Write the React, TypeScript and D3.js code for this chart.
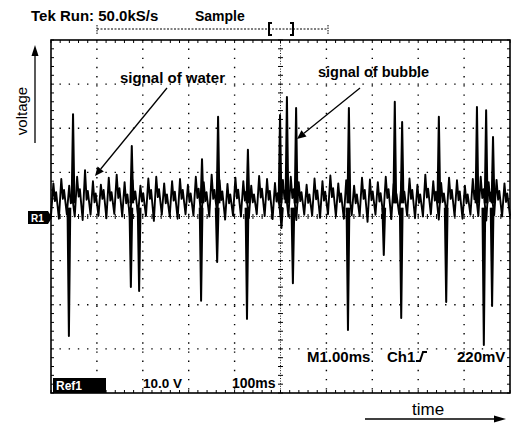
import React from "react";
import * as d3 from "d3";

// ---- data (time in ms, voltage in divisions) ----
const waterPeaks = [0.75,0.85,0.7,0.9,1.05,0.8,0.72,0.88,0.95,0.78,0.82,0.7,0.86,0.9,0.75,0.8,0.85,0.72,0.9,0.78,0.95,0.82,0.74,0.88,0.8,0.7,0.92,0.85,0.76,0.83,0.9,0.78,0.72,0.86,0.8,0.93,0.75,0.82,0.7,0.88,0.84,0.78,0.9,0.74,0.8,0.86,0.72,0.95,0.8,0.76,0.88,0.82,0.7,0.85,0.9,0.78,0.83,0.75];
const waterDips = [0.35,0.4,0.3,0.45,0.38,0.32,0.4,0.36,0.42,0.3,0.38,0.34,0.4,0.44,0.3,0.36,0.4,0.33,0.42,0.35,0.4,0.37,0.3,0.41,0.36,0.32,0.43,0.38,0.34,0.4,0.42,0.35,0.31,0.39,0.36,0.44,0.33,0.38,0.3,0.4,0.37,0.34,0.42,0.32,0.36,0.4,0.31,0.43,0.36,0.33,0.4,0.37,0.3,0.39,0.42,0.35,0.38,0.33];
const waterShoulders = [0.55,0.6,0.5,0.62,0.58,0.52,0.6,0.55,0.64,0.5,0.57,0.53,0.6,0.62,0.5,0.56,0.6,0.52,0.63,0.55,0.6,0.57,0.5,0.61,0.56,0.5,0.63,0.58,0.53,0.6,0.62,0.55,0.5,0.59,0.56,0.64,0.52,0.58,0.5,0.6,0.57,0.53,0.62,0.51,0.56,0.6,0.5,0.63,0.56,0.52,0.6,0.57,0.5,0.59,0.62,0.55,0.58,0.52];
const waterTroughs = [0.02,-0.05,0.05,0.0,-0.08,0.04,0.02,-0.04,0.06,0.0,-0.06,0.03,0.01,-0.1,0.04,0.0,-0.05,0.05,0.02,-0.03,0.0,0.06,-0.07,0.02,0.0,-0.04,0.05,0.01,-0.06,0.03,0.0,-0.08,0.04,0.02,-0.03,0.05,0.0,-0.05,0.03,0.01,-0.12,0.04,0.0,-0.06,0.05,0.02,-0.04,0.0,0.05,-0.07,0.02,0.0,-0.05,0.04,0.01,-0.09,0.03,0.0];

const spikeTimes = [0.39,0.48,1.74,1.76,1.92,3.27,3.29,3.62,3.64,4.27,4.29,4.99,5.02,5.14,5.27,5.34,6.47,6.49,7.25,7.49,7.63,7.65,8.45,8.61,9.28,9.43,9.48,9.61,9.63];
const spikeValues = [-2.71,2.32,-1.6,1.6,-1.69,-1.91,1.3,-1.03,2.26,-2.32,1.51,2.3,-0.26,2.71,-1.51,2.46,-2.57,2.46,-0.87,2.6,-2.3,2.14,2.26,-1.94,2.48,-2.91,2.41,-2.03,1.8];

const xDivs = d3.range(0, 11);
const yDivs = d3.range(-4, 5);

const FONT = "'Liberation Sans', Arial, Helvetica, sans-serif";

function Arrow({ x1, y1, x2, y2, head = 9, w = 4 }: any) {
  const a = Math.atan2(y2 - y1, x2 - x1);
  const bx = x2 - head * Math.cos(a), by = y2 - head * Math.sin(a);
  const px = -Math.sin(a) * w, py = Math.cos(a) * w;
  return (
    <g>
      <line x1={x1} y1={y1} x2={bx} y2={by} stroke="#000" strokeWidth={1.3} />
      <polygon points={`${x2},${y2} ${bx + px},${by + py} ${bx - px},${by - py}`} fill="#000" />
    </g>
  );
}

export default function App() {
  const x = d3.scaleLinear().domain([0, 10]).range([51, 510]);
  const y = d3.scaleLinear().domain([-4, 4]).range([393, 40]);
  const n = waterPeaks.length;
  const p = 10 / n;
  const pts: [number, number][] = [];
  for (let i = 0; i < n; i++) {
    const t = i * p;
    pts.push([t, waterTroughs[i]]);
    pts.push([t + 0.3 * p, waterPeaks[i]]);
    pts.push([t + 0.5 * p, waterDips[i]]);
    pts.push([t + 0.65 * p, waterShoulders[i]]);
  }
  pts.push([10, waterTroughs[0]]);
  const line = d3.line<[number, number]>().x((d) => x(d[0])).y((d) => y(d[1]));

  const minorX = d3.range(0, 10.001, 0.2);
  const minorY = d3.range(-4, 4.001, 0.2);
  const x0 = x(0), x1 = x(10), y0 = y(4), y1 = y(-4), cx = x(5), cy = y(0);

  return (
    <svg width={513} height={424} style={{ position: "absolute", left: 0, top: 0, background: "#fff" }} fontFamily={FONT}>
      <rect width={513} height={424} fill="#fff" />
      {/* header */}
      <text x={31} y={21} fontSize={15} fontWeight="bold">Tek Run: 50.0kS/s</text>
      <text x={195} y={21} fontSize={14} fontWeight="bold">Sample</text>
      <line x1={97} y1={29} x2={328} y2={29} stroke="#000" strokeWidth={1} strokeDasharray="2,1.5" />
      <line x1={97} y1={25} x2={97} y2={34} stroke="#000" strokeWidth={1} strokeDasharray="1.5,1" />
      <line x1={328} y1={25} x2={328} y2={34} stroke="#000" strokeWidth={1} strokeDasharray="1.5,1" />
      <path d="M272,23 L269,23 L269,35 L272,35" fill="none" stroke="#000" strokeWidth={2} />
      <path d="M290,23 L293,23 L293,35 L290,35" fill="none" stroke="#000" strokeWidth={2} />

      {/* grid */}
      {xDivs.filter((d) => d > 0 && d < 10 && d !== 5).map((d) => (
        <line key={"gx" + d} x1={x(d)} x2={x(d)} y1={y0} y2={y1} stroke="#000" strokeWidth={1.4}
          strokeDasharray={`1.4,${(x(0.2) - x(0)) - 1.4}`} strokeDashoffset={0.7} />
      ))}
      {yDivs.filter((d) => d > -4 && d < 4 && d !== 0).map((d) => (
        <line key={"gy" + d} x1={x0} x2={x1} y1={y(d)} y2={y(d)} stroke="#000" strokeWidth={1.4}
          strokeDasharray={`1.4,${(x(0.2) - x(0)) - 1.4}`} strokeDashoffset={0.7} />
      ))}
      {/* center cross */}
      <line x1={cx} x2={cx} y1={y0} y2={y1} stroke="#000" strokeWidth={0.9} strokeDasharray="1,1.6" />
      <line x1={x0} x2={x1} y1={cy} y2={cy} stroke="#000" strokeWidth={0.9} strokeDasharray="1,1.6" />
      {minorY.map((v, i) => (
        <line key={"cty" + i} x1={cx - 2.5} x2={cx + 2.5} y1={y(v)} y2={y(v)} stroke="#000" strokeWidth={1} />
      ))}
      {minorX.map((v, i) => (
        <line key={"ctx" + i} x1={x(v)} x2={x(v)} y1={cy - 2.5} y2={cy + 2.5} stroke="#000" strokeWidth={1} />
      ))}
      {/* frame ticks */}
      {minorX.map((v, i) => (
        <g key={"fx" + i}>
          <line x1={x(v)} x2={x(v)} y1={y0} y2={y0 + 3} stroke="#000" strokeWidth={1} />
          <line x1={x(v)} x2={x(v)} y1={y1} y2={y1 - 3} stroke="#000" strokeWidth={1} />
        </g>
      ))}
      {minorY.map((v, i) => (
        <g key={"fy" + i}>
          <line x1={x0} x2={x0 + 3} y1={y(v)} y2={y(v)} stroke="#000" strokeWidth={1} />
          <line x1={x1} x2={x1 - 3} y1={y(v)} y2={y(v)} stroke="#000" strokeWidth={1} />
        </g>
      ))}
      <rect x={x0} y={y0} width={x1 - x0} height={y1 - y0} fill="none" stroke="#000" strokeWidth={1.6} />

      {/* signal */}
      <path d={line(pts) || ""} fill="none" stroke="#000" strokeWidth={1.9} strokeLinejoin="round" />
      {spikeTimes.map((t, i) => {
        const v = spikeValues[i];
        const b = v > 0 ? 0.3 : 0.2;
        const sp: [number, number][] = [[t - 0.03, b], [t, v], [t + 0.03, b]];
        return <path key={"sp" + i} d={line(sp) || ""} fill="#000" stroke="#000" strokeWidth={2} strokeLinejoin="round" />;
      })}

      {/* R1 marker */}
      <rect x={28} y={211} width={20} height={13} fill="#000" />
      <polygon points={`48,211 52,217.5 48,224`} fill="#000" />
      <text x={31} y={221.5} fontSize={10} fontWeight="bold" fill="#fff">R1</text>

      {/* bottom readouts */}
      <rect x={53} y={378} width={53} height={15} fill="#000" />
      <text x={56} y={390} fontSize={12} fontWeight="bold" fill="#fff">Ref1</text>
      <text x={143} y={388} fontSize={13.5} fontWeight="bold">10.0 V</text>
      <text x={232} y={388} fontSize={14} fontWeight="bold">100ms</text>
      <text x={307} y={362} fontSize={15} fontWeight="bold">M1.00ms</text>
      <text x={387} y={362} fontSize={15} fontWeight="bold">Ch1</text>
      <path d="M416,361 L420,361 L423,352 L427,352" fill="none" stroke="#000" strokeWidth={2} />
      <text x={457} y={362} fontSize={15} fontWeight="bold">220mV</text>

      {/* annotations */}
      <text x={120} y={83} fontSize={15} fontWeight="bold">signal of water</text>
      <Arrow x1={167} y1={88} x2={95} y2={176} />
      <text x={318} y={77} fontSize={14.5} fontWeight="bold">signal of bubble</text>
      <Arrow x1={360} y1={88} x2={297} y2={139} />

      {/* axis labels */}
      <text transform="translate(27,111) rotate(-90)" textAnchor="middle" fontSize={15}>voltage</text>
      <Arrow x1={35} y1={143} x2={35} y2={45} head={11} w={3.5} />
      <text x={412} y={415} fontSize={17}>time</text>
      <Arrow x1={365} y1={419} x2={506} y2={419} head={12} w={3.5} />
    </svg>
  );
}
